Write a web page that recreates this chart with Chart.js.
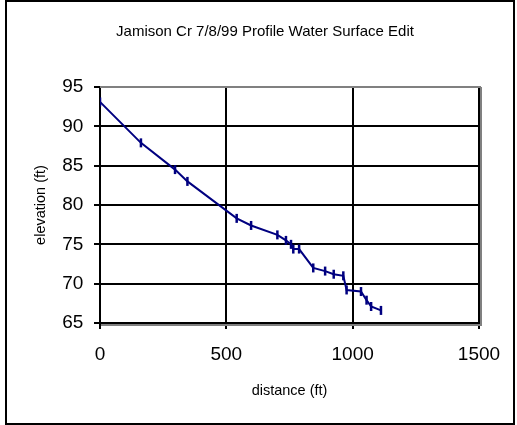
<!DOCTYPE html>
<html>
<head>
<meta charset="utf-8">
<script src="https://cdn.jsdelivr.net/npm/chart.js@4"></script>
<style>
  html, body { margin: 0; padding: 0; background: #fff; }
  #wrap { position: relative; width: 517px; height: 425px; }
  #frame {
    position: absolute; left: 5px; top: 0; width: 510px; height: 425px;
    border: 2px solid #000; box-sizing: border-box; pointer-events: none;
  }
  canvas { position: absolute; left: 0; top: 0; }
</style>
</head>
<body>
<div id="wrap">
  <canvas id="profileChart" width="517" height="425"></canvas>
  <div id="frame"></div>
</div>
<script>
/* ── Data ── */
const distance = [0, 162, 297, 346, 541, 598, 702, 736, 756, 765, 788, 844, 891, 925, 963, 976, 1033, 1055, 1073, 1112];
const elevation = [93.1, 87.9, 84.5, 83.0, 78.3, 77.4, 76.2, 75.5, 75.0, 74.4, 74.4, 72.0, 71.6, 71.2, 71.0, 69.2, 69.0, 67.9, 67.1, 66.6];
const xTicks = [0, 500, 1000, 1500];
const yTicks = [65, 70, 75, 80, 85, 90, 95];

const FONT = "'Liberation Sans', Arial, sans-serif";
const NAVY = "#000080";

/* gray shadow round the plot area, like the old spreadsheet look */
const plotFrame = {
  id: "plotFrame",
  afterDraw(chart) {
    const { ctx, chartArea: a } = chart;
    ctx.save();
    ctx.strokeStyle = "#808080";
    ctx.lineWidth = 2;
    ctx.beginPath();
    ctx.moveTo(a.left, a.top);
    ctx.lineTo(a.right + 2, a.top);
    ctx.moveTo(a.right + 2, a.top);
    ctx.lineTo(a.right + 2, a.bottom + 2);
    ctx.lineTo(a.left + 1, a.bottom + 2);
    ctx.stroke();
    ctx.restore();
  },
};

new Chart(document.getElementById("profileChart"), {
  type: "scatter",
  data: {
    datasets: [
      {
        data: distance.map((d, i) => ({ x: d, y: elevation[i] })),
        showLine: true,
        borderColor: NAVY,
        borderWidth: 2,
        tension: 0,
        pointStyle: "line",
        rotation: 90,
        pointRadius: 4.5,
        pointBorderWidth: 2.5,
        pointBorderColor: NAVY,
        pointBackgroundColor: NAVY,
      },
    ],
  },
  options: {
    responsive: false,
    animation: false,
    layout: { padding: { left: 30, right: 17, top: 0, bottom: 0 } },
    plugins: {
      legend: { display: false },
      tooltip: { enabled: false },
      title: {
        display: true,
        text: "Jamison Cr 7/8/99 Profile Water Surface Edit",
        color: "#000",
        font: { family: FONT, size: 15, weight: "normal" },
        padding: { top: 23, bottom: 46 },
      },
    },
    scales: {
      x: {
        type: "linear",
        min: 0,
        max: 1500,
        afterBuildTicks: (s) => { s.ticks = xTicks.map((v) => ({ value: v })); },
        afterFit: (s) => { s.height = 102; s.paddingRight = 38; },
        grid: { color: "#000", lineWidth: 2, tickLength: 6, tickColor: "#000" },
        border: { color: "#000", width: 2 },
        ticks: {
          color: "#000",
          font: { family: FONT, size: 19 },
          padding: 14.6,
          maxRotation: 0,
          callback: (v) => String(v),
        },
        title: {
          display: true,
          text: "distance (ft)",
          color: "#000",
          font: { family: FONT, size: 14.5 },
          padding: { top: 0, bottom: 25.5 },
        },
      },
      y: {
        type: "linear",
        min: 65,
        max: 95,
        afterBuildTicks: (s) => { s.ticks = yTicks.map((v) => ({ value: v })); },
        afterFit: (s) => { s.width = 70; },
        grid: {
          color: (c) => (c.tick && c.tick.value === 95 ? "#808080" : "#000"),
          lineWidth: 2,
          tickLength: 6,
          tickColor: "#000",
        },
        border: { color: "#000", width: 2 },
        ticks: {
          color: "#000",
          font: { family: FONT, size: 19 },
          padding: 10.7,
          callback: (v) => String(v),
        },
        title: {
          display: true,
          text: "elevation (ft)",
          color: "#000",
          font: { family: FONT, size: 14.5 },
          padding: { top: 2.4, bottom: 0 },
        },
      },
    },
  },
  plugins: [plotFrame],
});
</script>
</body>
</html>
